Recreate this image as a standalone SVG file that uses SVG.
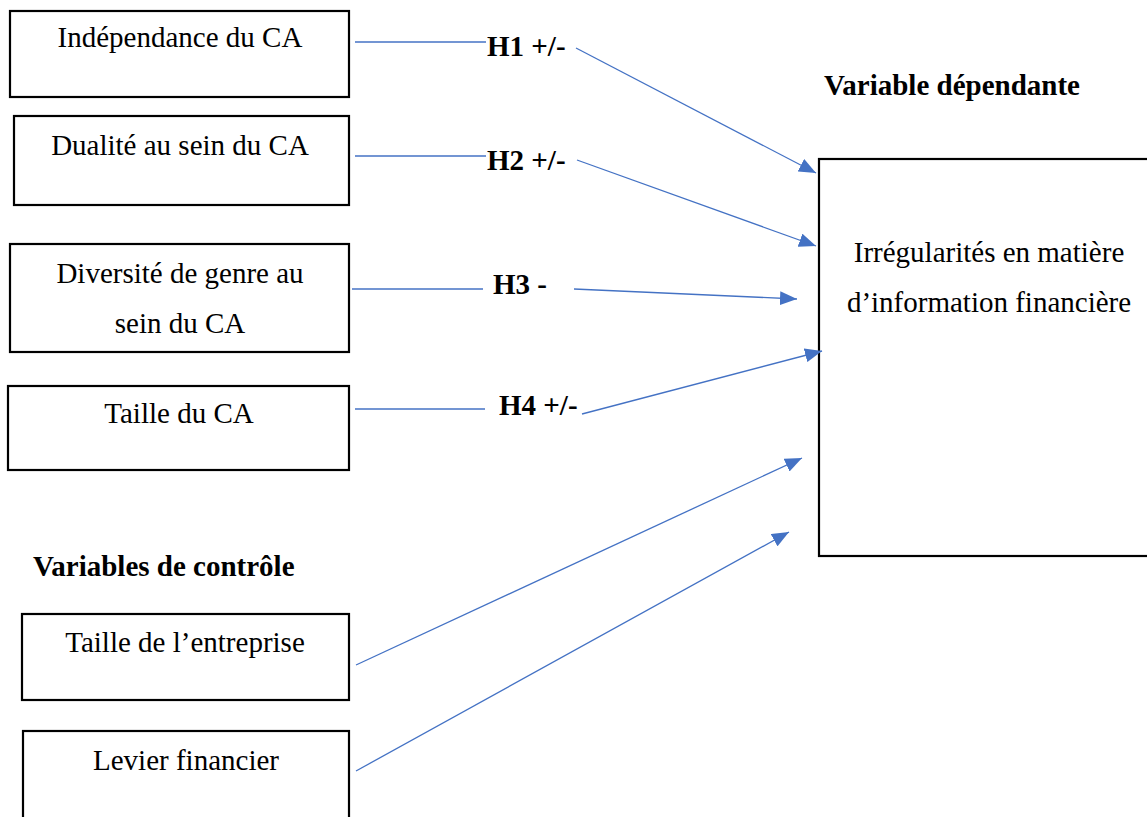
<svg xmlns="http://www.w3.org/2000/svg" width="1147" height="817" viewBox="0 0 1147 817">
<style>
.box{fill:#fff;stroke:#000;stroke-width:2.2}
.t{font-family:"Liberation Serif","Times New Roman",serif;font-size:29px;fill:#000;text-anchor:middle}
.b{font-family:"Liberation Serif","Times New Roman",serif;font-size:29px;font-weight:bold;fill:#000}
.c{stroke:#4472C4;stroke-width:1.3;fill:none}
</style>
<defs>
<marker id="ah" markerUnits="userSpaceOnUse" markerWidth="18" markerHeight="14" refX="17" refY="7" orient="auto">
<path d="M0,0 L17,7 L0,14 z" fill="#4472C4"/>
</marker>
</defs>
<rect width="1147" height="817" fill="#fff"/>
<g id="n1"><rect class="box" x="10" y="11" width="339" height="86"/><text class="t" x="180" y="47">Indépendance du CA</text></g>
<g id="n2"><rect class="box" x="14" y="116" width="335" height="89"/><text class="t" x="180" y="155">Dualité au sein du CA</text></g>
<g id="n3"><rect class="box" x="10" y="244" width="339" height="108"/><text class="t" x="180" y="283">Diversité de genre au</text><text class="t" x="180" y="333">sein du CA</text></g>
<g id="n4"><rect class="box" x="8" y="386" width="341" height="84"/><text class="t" x="179" y="423">Taille du CA</text></g>
<g id="ctrl-label"><text class="b" x="33" y="576">Variables de contrôle</text></g>
<g id="n5"><rect class="box" x="22" y="614" width="327" height="86"/><text class="t" x="185" y="652">Taille de l’entreprise</text></g>
<g id="n6"><rect class="box" x="23" y="731" width="326" height="100"/><text class="t" x="186" y="770">Levier financier</text></g>
<g id="dep-label"><text class="b" x="824" y="95">Variable dépendante</text></g>
<g id="dep"><rect class="box" x="819" y="159" width="340" height="397"/><text class="t" x="989" y="262">Irrégularités en matière</text><text class="t" x="989" y="312">d’information financière</text></g>
<g id="connectors">
<line class="c" x1="355" y1="42" x2="486" y2="42"/>
<text class="b" x="487" y="56">H1 +/-</text>
<line class="c" x1="576" y1="48" x2="816" y2="173" marker-end="url(#ah)"/>
<line class="c" x1="355" y1="156" x2="486" y2="156"/>
<text class="b" x="487" y="170">H2 +/-</text>
<line class="c" x1="577" y1="160" x2="816" y2="246" marker-end="url(#ah)"/>
<line class="c" x1="352" y1="289" x2="483" y2="289"/>
<text class="b" x="493" y="294">H3 -</text>
<line class="c" x1="574" y1="289" x2="797" y2="299" marker-end="url(#ah)"/>
<line class="c" x1="355" y1="409" x2="485" y2="409"/>
<text class="b" x="499" y="415">H4 +/-</text>
<line class="c" x1="582" y1="414" x2="822" y2="351" marker-end="url(#ah)"/>
<line class="c" x1="356" y1="665" x2="802" y2="458" marker-end="url(#ah)"/>
<line class="c" x1="356" y1="771" x2="789" y2="532" marker-end="url(#ah)"/>
</g>
</svg>
